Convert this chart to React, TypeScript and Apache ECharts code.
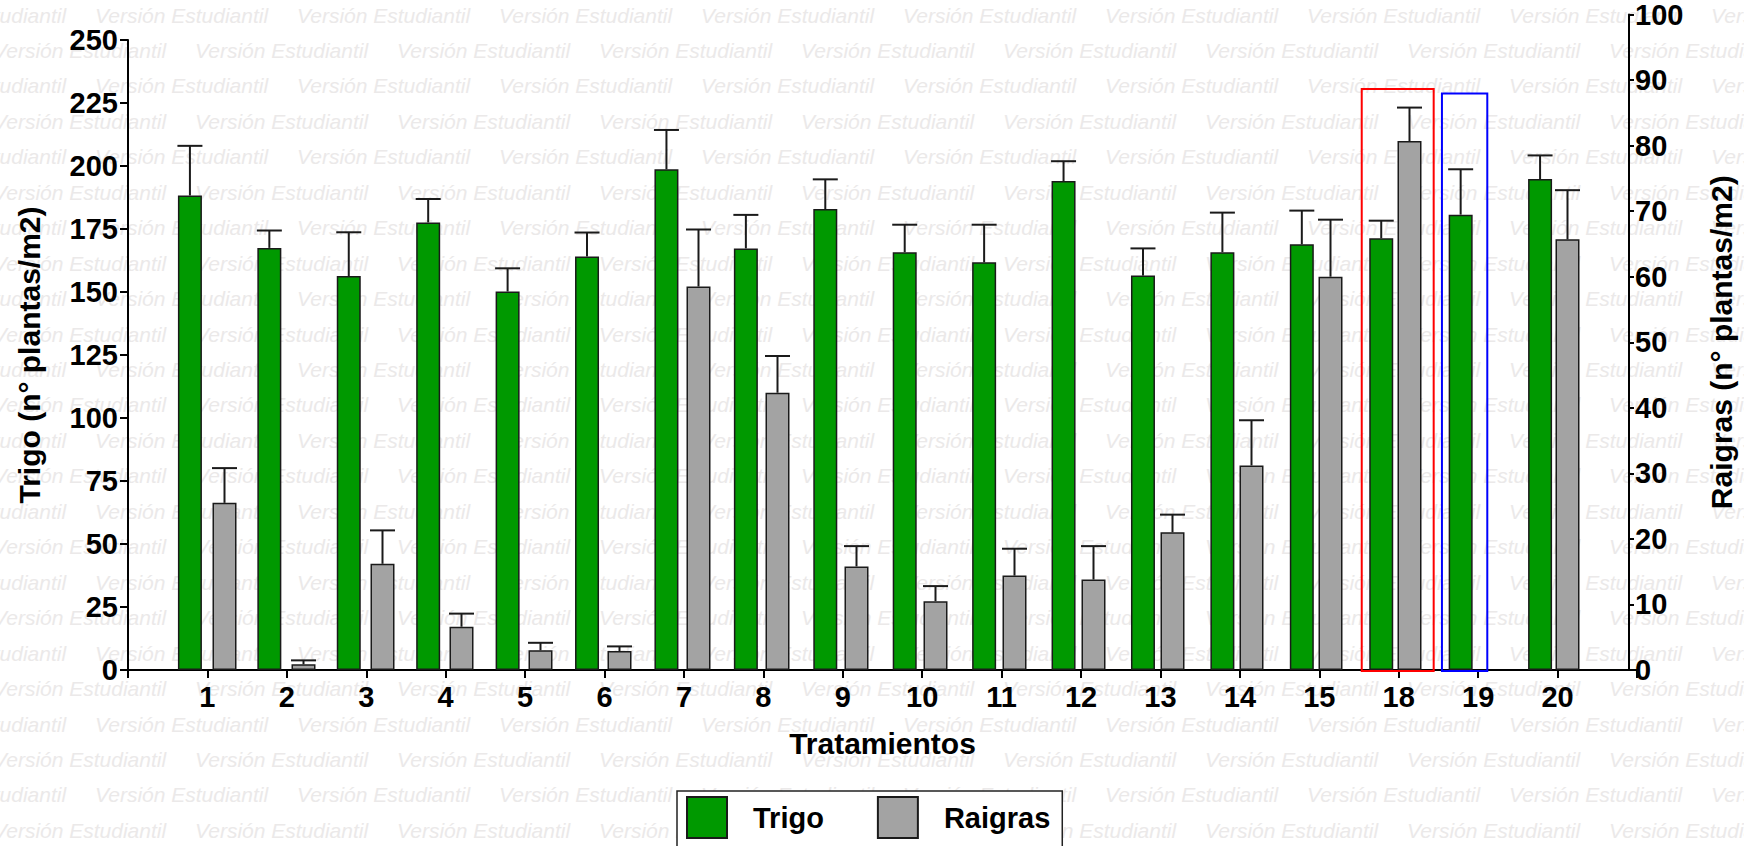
import React, { useEffect, useRef } from "react";
import * as echarts from "echarts";

// ---- data ----
const CATEGORIES = ["1", "2", "3", "4", "5", "6", "7", "8", "9", "10", "11", "12", "13", "14", "15", "18", "19", "20"];
const TRIGO = [188.3, 167.5, 156.3, 177.6, 150.2, 164.1, 198.7, 167.3, 182.9, 165.8, 161.8, 194.0, 156.5, 165.8, 168.9, 171.3, 180.7, 194.8];
const TRIGO_ERR = [19.7, 6.9, 17.4, 9.3, 9.2, 9.5, 15.6, 13.3, 11.8, 10.9, 14.9, 7.9, 10.8, 15.7, 13.4, 7.0, 18.0, 9.4];
const RAIGRAS: (number | null)[] = [25.5, 0.87, 16.2, 6.6, 3.0, 2.9, 58.5, 42.3, 15.8, 10.5, 14.4, 13.8, 21.0, 31.2, 60.0, 80.7, null, 65.7];
const RAIGRAS_ERR: (number | null)[] = [5.3, 0.6, 5.1, 2.0, 1.15, 0.7, 8.7, 5.6, 3.1, 2.3, 4.1, 5.1, 2.7, 6.9, 8.7, 5.1, null, 7.5];
const HIGHLIGHT_CATS = ["18", "19"];
const HIGHLIGHT_TOPS = [230.6, 228.8]; // on the Trigo axis
const WATERMARK = "Versión Estudiantil";

// ---- styles ----
const FONT = "'Liberation Sans', Arial, sans-serif";
const GREEN = "#009900";
const GRAY = "#a3a3a3";
const EDGE = "#1a1a1a";
const BAR_W = 24;
const BAR_GAP = 11;
const OFFSET = (BAR_W + BAR_GAP) / 2;
const BOX_STYLES = [
  { color: "#ff0000", l: -0.466, r: 0.44 },
  { color: "#0000ff", l: -0.456, r: 0.115 },
];

const AXIS_CATS = ["", ...CATEGORIES, ""];

function errorSeries(values: (number | null)[], errs: (number | null)[], sign: number, axisIndex: number) {
  const data: any[] = [];
  CATEGORIES.forEach((c, i) => {
    if (values[i] != null && errs[i] != null) data.push([c, values[i], errs[i]]);
  });
  return {
    type: "custom",
    name: "_err" + axisIndex,
    xAxisIndex: axisIndex,
    yAxisIndex: axisIndex,
    silent: true,
    clip: false,
    z: 3,
    encode: { x: 0, y: 1 },
    data,
    renderItem: (params: any, api: any) => {
      const cat = api.value(0);
      const v = api.value(1);
      const e = api.value(2);
      const base = api.coord([cat, v]);
      const top = api.coord([cat, v + e]);
      const x = base[0] + sign * OFFSET;
      const half = BAR_W / 2 + 0.5;
      const st = { stroke: EDGE, lineWidth: 2 };
      return {
        type: "group",
        children: [
          { type: "line", shape: { x1: x, y1: base[1], x2: x, y2: top[1] }, style: st },
          { type: "line", shape: { x1: x - half, y1: top[1], x2: x + half, y2: top[1] }, style: st },
        ],
      };
    },
  };
}

function watermark() {
  const els: any[] = [];
  for (let k = 0; k < 24; k++) {
    const y = 15 + 35.45 * k;
    const start = k % 2 === 0 ? 95 - 202 : -7;
    for (let x = start; x < 1744; x += 202) {
      els.push({
        type: "text",
        x,
        y,
        z: -10,
        silent: true,
        style: {
          text: WATERMARK,
          font: `italic 21px ${FONT}`,
          fill: "#ebe9e9",
          verticalAlign: "middle",
        },
      });
    }
  }
  return els;
}

export default function App() {
  const ref = useRef<HTMLDivElement>(null);
  useEffect(() => {
    document.body.style.margin = "0";
    const chart = echarts.init(ref.current!, null, { renderer: "svg" });
    const gridCommon = { left: 128, right: 107, bottom: 176, containLabel: false };
    const tickLabel = { fontSize: 29, fontWeight: "bold", color: "#000", fontFamily: FONT };
    const nameStyle = { fontSize: 30, fontWeight: "bold", color: "#000", fontFamily: FONT };
    const axisLine = { show: true, lineStyle: { color: "#000", width: 2 } };
    const axisTick = { show: true, lineStyle: { color: "#000", width: 2 } };

    chart.setOption({
      animation: false,
      backgroundColor: "#fff",
      graphic: watermark(),
      grid: [
        { ...gridCommon, top: 40 },
        { ...gridCommon, top: 13 },
      ],
      legend: {
        data: ["Trigo", "Raigras"],
        left: 677,
        top: 791,
        orient: "horizontal",
        icon: "rect",
        itemWidth: 40,
        itemHeight: 41,
        itemGap: 53,
        padding: [5, 12, 14, 9],
        borderColor: "#222",
        borderWidth: 1.5,
        borderRadius: 0,
        backgroundColor: "#fff",
        textStyle: { fontSize: 29, fontWeight: "bold", color: "#000", fontFamily: FONT, padding: [0, 0, 0, 21] },
      },
      xAxis: [
        {
          type: "category",
          gridIndex: 0,
          data: AXIS_CATS,
          boundaryGap: false,
          axisLine,
          axisTick: { ...axisTick, length: 8, alignWithLabel: true },
          axisLabel: { ...tickLabel, margin: 12, interval: 0 },
          splitLine: { show: false },
          name: "Tratamientos",
          nameLocation: "middle",
          nameGap: 58,
          nameTextStyle: nameStyle,
        },
        {
          type: "category",
          gridIndex: 1,
          data: AXIS_CATS,
          boundaryGap: false,
          show: false,
        },
      ],
      yAxis: [
        {
          type: "value",
          gridIndex: 0,
          position: "left",
          min: 0,
          max: 250,
          interval: 25,
          axisLine,
          axisTick: { ...axisTick, length: 8 },
          axisLabel: { ...tickLabel, margin: 10 },
          splitLine: { show: false },
          name: "Trigo (n° plantas/m2)",
          nameLocation: "middle",
          nameGap: 84,
          nameTextStyle: nameStyle,
        },
        {
          type: "value",
          gridIndex: 1,
          position: "right",
          min: 0,
          max: 100,
          interval: 10,
          axisLine,
          axisTick: { ...axisTick, length: 5 },
          axisLabel: { ...tickLabel, margin: 6 },
          splitLine: { show: false },
          name: "Raigras (n° plantas/m2)",
          nameLocation: "middle",
          nameGap: 77,
          nameTextStyle: nameStyle,
        },
      ],
      series: [
        {
          type: "bar",
          name: "Trigo",
          xAxisIndex: 0,
          yAxisIndex: 0,
          barWidth: BAR_W,
          barGap: `${(BAR_GAP / BAR_W) * 100}%`,
          data: ["-", ...TRIGO, "-"],
          itemStyle: { color: GREEN, borderColor: EDGE, borderWidth: 1.5 },
          z: 2,
        },
        {
          type: "bar",
          name: "_slotA",
          xAxisIndex: 0,
          yAxisIndex: 0,
          barWidth: BAR_W,
          barGap: `${(BAR_GAP / BAR_W) * 100}%`,
          data: [],
          silent: true,
        },
        {
          type: "bar",
          name: "_slotB",
          xAxisIndex: 1,
          yAxisIndex: 1,
          barWidth: BAR_W,
          barGap: `${(BAR_GAP / BAR_W) * 100}%`,
          data: [],
          silent: true,
        },
        {
          type: "bar",
          name: "Raigras",
          xAxisIndex: 1,
          yAxisIndex: 1,
          barWidth: BAR_W,
          barGap: `${(BAR_GAP / BAR_W) * 100}%`,
          data: ["-", ...RAIGRAS.map((v) => (v == null ? "-" : v)), "-"],
          itemStyle: { color: GRAY, borderColor: EDGE, borderWidth: 1.5 },
          z: 2,
        },
        errorSeries(TRIGO, TRIGO_ERR, -1, 0),
        errorSeries(RAIGRAS, RAIGRAS_ERR, 1, 1),
        {
          type: "custom",
          name: "_boxes",
          xAxisIndex: 0,
          yAxisIndex: 0,
          silent: true,
          clip: false,
          z: 4,
          encode: { x: 0, y: 1 },
          data: HIGHLIGHT_CATS.map((c, i) => [c, HIGHLIGHT_TOPS[i], i]),
          renderItem: (params: any, api: any) => {
            const cat = api.value(0);
            const top = api.coord([cat, api.value(1)]);
            const bot = api.coord([cat, 0]);
            const bw = api.size([1, 0])[0];
            const s = BOX_STYLES[api.value(2)];
            const x1 = top[0] + s.l * bw;
            const x2 = top[0] + s.r * bw;
            return {
              type: "rect",
              shape: { x: x1, y: top[1], width: x2 - x1, height: bot[1] + 1 - top[1] },
              style: { fill: "none", stroke: s.color, lineWidth: 2 },
            };
          },
        },
      ],
    });
    return () => chart.dispose();
  }, []);
  return <div ref={ref} style={{ position: "fixed", left: 0, top: 0, width: 1744, height: 846 }} />;
}
